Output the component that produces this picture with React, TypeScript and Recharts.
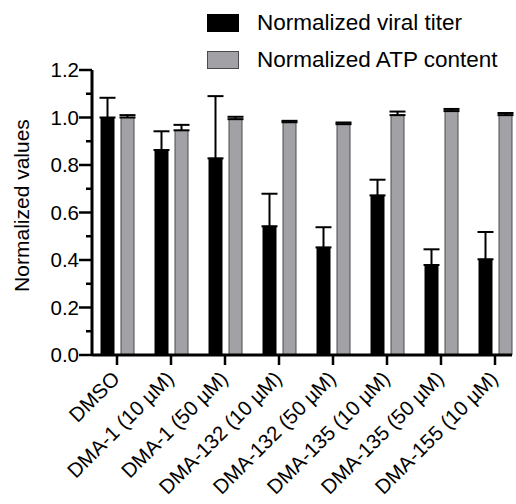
import React from 'react'
import { BarChart, Bar, XAxis, YAxis, ErrorBar, Legend } from 'recharts'

const categories = [
  'DMSO',
  'DMA-1 (10 µM)',
  'DMA-1 (50 µM)',
  'DMA-132 (10 µM)',
  'DMA-132 (50 µM)',
  'DMA-135 (10 µM)',
  'DMA-135 (50 µM)',
  'DMA-155 (10 µM)',
]
const viralTiter = [1.0, 0.863, 0.828, 0.542, 0.453, 0.672, 0.379, 0.403]
const viralTiterErr = [0.083, 0.079, 0.262, 0.137, 0.085, 0.066, 0.066, 0.115]
const atpContent = [1.0, 0.946, 0.993, 0.98, 0.972, 1.01, 1.027, 1.01]
const atpContentErr = [0.01, 0.023, 0.01, 0.006, 0.007, 0.015, 0.009, 0.009]
const yTicks = [0, 0.1, 0.2, 0.3, 0.4, 0.5, 0.6, 0.7, 0.8, 0.9, 1.0, 1.1, 1.2]

const FONT = '"Liberation Sans", Arial, Helvetica, sans-serif'

const data = categories.map((name, i) => ({
  name,
  titer: viralTiter[i],
  titerErr: [0, viralTiterErr[i]],
  atp: atpContent[i],
  atpErr: [0, atpContentErr[i]],
}))

const seriesOrder = ['titer', 'atp']
const swatches: Record<string, { fill: string; stroke: string }> = {
  titer: { fill: '#000000', stroke: '#000000' },
  atp: { fill: '#a2a2a6', stroke: '#4a4a4a' },
}

const YTick = (props: any) => {
  const { x, y, index, payload } = props
  const major = index % 2 === 0
  return (
    <g>
      <line x1={x - (major ? 13 : 6)} x2={x} y1={y} y2={y} stroke="#000" strokeWidth={2.5} />
      {major && (
        <text
          x={x - 13}
          y={y}
          dy="0.36em"
          textAnchor="end"
          fontSize={20.5}
          fontFamily={FONT}
          fill="#000"
        >
          {payload.value.toFixed(1)}
        </text>
      )}
    </g>
  )
}

const XTick = (props: any) => {
  const { x, y, payload } = props
  return (
    <g transform={`translate(${x + 4},${y + 13})`}>
      <text textAnchor="end" transform="rotate(-45)" fontSize={20.5} fontFamily={FONT} fill="#000">
        {payload.value}
      </text>
    </g>
  )
}

const YLabel = (props: any) => {
  const { viewBox } = props
  const cx = viewBox.x + viewBox.width - 71
  const cy = viewBox.y + viewBox.height / 2 - 7
  return (
    <text
      x={cx}
      y={cy}
      transform={`rotate(-90, ${cx}, ${cy})`}
      textAnchor="middle"
      dominantBaseline="central"
      fontSize={21}
      fontFamily={FONT}
      fill="#000"
    >
      Normalized values
    </text>
  )
}

const renderLegend = (props: any) => {
  const items = [...(props.payload || [])].sort(
    (a: any, b: any) => seriesOrder.indexOf(a.dataKey) - seriesOrder.indexOf(b.dataKey)
  )
  return (
    <div style={{ fontFamily: FONT }}>
      {items.map((p: any) => {
        const s = swatches[p.dataKey]
        return (
          <div key={p.dataKey} style={{ display: 'flex', alignItems: 'center', height: 37 }}>
            <span
              style={{
                display: 'inline-block',
                width: 30,
                height: 16,
                background: s.fill,
                border: `1px solid ${s.stroke}`,
              }}
            />
            <span style={{ marginLeft: 18, fontSize: 22.5, color: '#000', whiteSpace: 'nowrap' }}>
              {p.value}
            </span>
          </div>
        )
      })}
    </div>
  )
}

export default function App() {
  return (
    <div style={{ position: 'absolute', left: 0, top: 0, background: '#fff' }}>
      <BarChart
        width={516}
        height={504}
        data={data}
        margin={{ top: 70, right: 4, bottom: 9, left: 32 }}
        barSize={13}
        barGap={7}
      >
        <XAxis
          dataKey="name"
          interval={0}
          height={140}
          tickSize={10}
          tickLine={{ stroke: '#000', strokeWidth: 2.5 }}
          axisLine={{ stroke: '#000', strokeWidth: 3 }}
          padding={{ left: -2, right: -10 }}
          tick={<XTick />}
        />
        <YAxis
          width={60}
          domain={[0, 1.2]}
          ticks={yTicks}
          interval={0}
          tickLine={false}
          tickSize={0}
          tickMargin={0}
          axisLine={{ stroke: '#000', strokeWidth: 3 }}
          tick={<YTick />}
          label={<YLabel />}
        />
        <Legend
          layout="horizontal"
          verticalAlign="middle"
          align="center"
          content={renderLegend}
          wrapperStyle={{ top: 4.5, left: 207, width: 309 }}
        />
        <Bar
          dataKey="titer"
          name="Normalized viral titer"
          fill={swatches.titer.fill}
          stroke={swatches.titer.stroke}
          strokeWidth={1}
          isAnimationActive={false}
        >
          <ErrorBar dataKey="titerErr" direction="y" width={8} stroke="#000" strokeWidth={2} />
        </Bar>
        <Bar
          dataKey="atp"
          name="Normalized ATP content"
          fill={swatches.atp.fill}
          stroke={swatches.atp.stroke}
          strokeWidth={1}
          isAnimationActive={false}
        >
          <ErrorBar dataKey="atpErr" direction="y" width={8} stroke="#000" strokeWidth={2} />
        </Bar>
      </BarChart>
    </div>
  )
}
